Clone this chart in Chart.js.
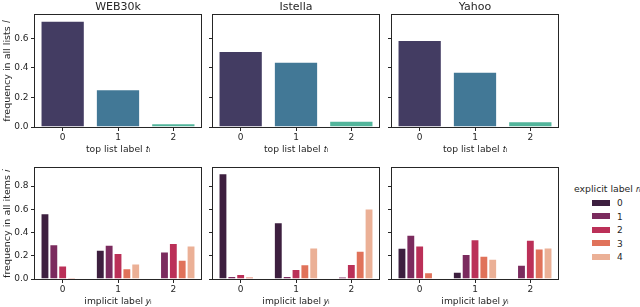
<!DOCTYPE html>
<html>
<head>
<meta charset="utf-8">
<script src="https://cdn.jsdelivr.net/npm/chart.js@4/dist/chart.umd.min.js"></script>
<style>
  body { margin: 0; background: #fff; width: 640px; height: 307px; overflow: hidden; position: relative; font-family: "DejaVu Sans"; color: #262626; }
  canvas { position: absolute; }
  .legend { position: absolute; left: 574px; top: 183px; font-size: 9.3px; white-space: nowrap; }
  .legend-row { position: absolute; left: 18px; height: 13px; line-height: 13px; font-size: 9px; }
  .legend-row span { display: inline-block; width: 18px; height: 6px; margin-right: 7px; vertical-align: middle; position: relative; top: -1px; }
</style>
</head>
<body>
<div class="legend" id="legend"></div>
<script>
// data
const datasetNames = ["WEB30k", "Istella", "Yahoo"];
const topListLabels = ["0", "1", "2"];
const implicitLabels = ["0", "1", "2"];
const explicitLabels = ["0", "1", "2", "3", "4"];

const topWeb30k = [0.72, 0.255, 0.025];
const topIstella = [0.515, 0.443, 0.043];
const topYahoo = [0.59, 0.375, 0.039];

// bottom row: one array per explicit label r, over implicit label groups 0,1,2
const web30kByR = [
    [0.566, 0.252, 0],
    [0.300, 0.294, 0.237],
    [0.117, 0.223, 0.309],
    [0.014, 0.092, 0.166],
    [0, 0.134, 0.289],
];
const istellaByR = [
    [0.910, 0.489, 0],
    [0.026, 0.026, 0.020],
    [0.043, 0.086, 0.129],
    [0.020, 0.126, 0.243],
    [0, 0.272, 0.607],
];
const yahooByR = [
    [0.269, 0.063, 0],
    [0.380, 0.215, 0.123],
    [0.289, 0.343, 0.337],
    [0.057, 0.200, 0.263],
    [0, 0.174, 0.272],
];

const topTicks = [0, 0.2, 0.4, 0.6];
const bottomTicks = [0, 0.2, 0.4, 0.6, 0.8];

const topColors = ["#433c62", "#427896", "#52b59b"];
const rocketColors = ["#3d1f3f", "#7b2b5e", "#bb3058", "#e0725a", "#ebb096"];

const textColor = "#262626";
Chart.defaults.font.family = "'DejaVu Sans'";
Chart.defaults.color = textColor;

const framePlugin = {
    id: "frame",
    afterDraw(chart) {
        const {ctx, chartArea: {left, top, right, bottom}} = chart;
        ctx.save();
        ctx.strokeStyle = textColor;
        ctx.lineWidth = 1;
        ctx.strokeRect(Math.round(left) - 0.5, Math.round(top) - 0.5,
            Math.round(right) - Math.round(left) + 1, Math.round(bottom) - Math.round(top) + 1);
        ctx.restore();
    },
};

function makeChart(plot, data, cfg) {
    const yw = cfg.showY ? 35 : 10;
    const topExtra = cfg.title ? 15 : 4;
    const canvas = document.createElement("canvas");
    canvas.width = (plot.r - plot.l) + yw + 2;
    canvas.height = (plot.b - plot.t) + topExtra + 28;
    canvas.style.left = (plot.l - yw) + "px";
    canvas.style.top = (plot.t - topExtra) + "px";
    document.body.appendChild(canvas);

    return new Chart(canvas, {
        type: "bar",
        data: data,
        options: {
            responsive: false,
            animation: false,
            devicePixelRatio: 1,
            events: [],
            layout: { padding: { left: 0, right: 2, top: cfg.title ? 0 : 4, bottom: 0 } },
            plugins: {
                legend: { display: false },
                tooltip: { enabled: false },
                title: {
                    display: !!cfg.title,
                    text: cfg.title,
                    fullSize: false,
                    color: textColor,
                    font: { size: 11, weight: "normal", lineHeight: 1.1 },
                    padding: { top: 1.4, bottom: 1.5 },
                },
            },
            scales: {
                x: {
                    offset: true,
                    grid: { drawOnChartArea: false, tickLength: 4, tickColor: textColor, offset: false },
                    border: { display: false },
                    ticks: { font: { size: 9 }, padding: 1, maxRotation: 0, color: textColor },
                    title: { display: true, text: cfg.xTitle, font: { size: 9.2 }, padding: 0, color: textColor },
                    afterFit(scale) {
                        scale.height = 28;
                        scale.paddingLeft = 0;
                        scale.paddingRight = 0;
                    },
                },
                y: {
                    min: 0,
                    max: cfg.yMax,
                    grid: { drawOnChartArea: false, tickLength: 4, tickColor: textColor },
                    border: { display: false },
                    ticks: {
                        display: cfg.showY,
                        font: { size: 9 },
                        padding: 2.5,
                        color: textColor,
                        callback: (v) => Number(v).toFixed(1),
                    },
                    title: { display: cfg.showY, text: cfg.yTitle, font: { size: 9.5 }, padding: { top: 1.5, bottom: 0 }, color: textColor },
                    afterBuildTicks(scale) {
                        scale.ticks = cfg.yTicks.map((v) => ({ value: v }));
                    },
                    afterFit(scale) {
                        scale.width = yw;
                        scale.paddingTop = 0;
                        scale.paddingBottom = 0;
                    },
                },
            },
        },
        plugins: [framePlugin],
    });
}

const columns = [
    { l: 35, r: 201 },
    { l: 213, r: 379 },
    { l: 392, r: 558 },
];
const topRow = { t: 15, b: 127 };
const bottomRow = { t: 168, b: 279 };

const topValues = [topWeb30k, topIstella, topYahoo];
const bottomValues = [web30kByR, istellaByR, yahooByR];

for (let i = 0; i < 3; i++) {
    makeChart(
        { l: columns[i].l, r: columns[i].r, t: topRow.t, b: topRow.b },
        {
            labels: topListLabels,
            datasets: [{
                data: topValues[i],
                backgroundColor: topColors,
                borderColor: "rgba(255,255,255,0.3)",
                borderWidth: 1,
                borderSkipped: "start",
                barPercentage: 0.8,
                categoryPercentage: 1,
            }],
        },
        {
            title: datasetNames[i],
            showY: i === 0,
            xTitle: "top list label 𝑡ₗ",
            yTitle: "frequency in all lists 𝑙",
            yMax: 0.759,
            yTicks: topTicks,
        }
    );

    makeChart(
        { l: columns[i].l, r: columns[i].r, t: bottomRow.t, b: bottomRow.b },
        {
            labels: implicitLabels,
            datasets: explicitLabels.map((r, k) => ({
                label: r,
                data: bottomValues[i][k],
                backgroundColor: rocketColors[k],
                borderColor: "rgba(255,255,255,0.3)",
                borderWidth: 1,
                borderSkipped: "start",
                barPercentage: 1,
                categoryPercentage: 0.8,
            })),
        },
        {
            title: null,
            showY: i === 0,
            xTitle: "implicit label 𝑦ᵢ",
            yTitle: "frequency in all items 𝑖",
            yMax: 0.955,
            yTicks: bottomTicks,
        }
    );
}

// legend for the explicit labels
const legend = document.getElementById("legend");
legend.innerHTML = "explicit label 𝑟ᵢ";
explicitLabels.forEach((r, k) => {
    const row = document.createElement("div");
    row.className = "legend-row";
    row.style.top = (14 + k * 13.5) + "px";
    row.innerHTML = `<span style="background:${rocketColors[k]}"></span>${r}`;
    legend.appendChild(row);
});
</script>
</body>
</html>
